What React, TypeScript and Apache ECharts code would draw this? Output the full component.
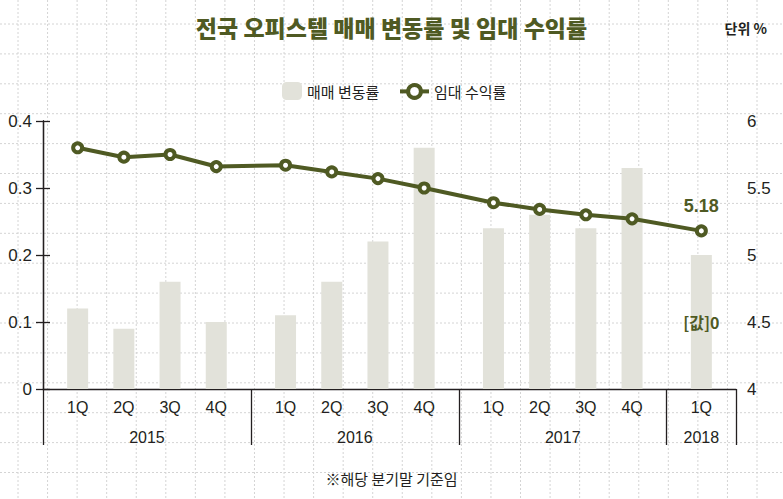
import React, { useEffect, useRef } from 'react';
import * as echarts from 'echarts';

// ---- data ----
const quarters = ['1Q', '2Q', '3Q', '4Q', '1Q', '2Q', '3Q', '4Q', '1Q', '2Q', '3Q', '4Q', '1Q'];
const quarterYears = ['2015', '2015', '2015', '2015', '2016', '2016', '2016', '2016', '2017', '2017', '2017', '2017', '2018'];
const saleChange = [0.12, 0.09, 0.16, 0.1, 0.11, 0.16, 0.22, 0.36, 0.24, 0.26, 0.24, 0.33, 0.2];
const rentYield = [5.8, 5.73, 5.75, 5.66, 5.67, 5.62, 5.57, 5.5, 5.39, 5.34, 5.3, 5.27, 5.18];
const leftTicks = { min: 0, max: 0.4, interval: 0.1 };
const rightTicks = { min: 4, max: 6, interval: 0.5 };
const seriesNames = ['매매 변동률', '임대 수익률'];
const titleText = '전국 오피스텔 매매 변동률 및 임대 수익률';
const unitText = '단위 %';
const noteText = '※해당 분기말 기준임';

const OLIVE = '#4f5a23';
const BAR = '#e2e2da';
const INK = '#231f20';
const KR = "'Noto Sans CJK KR', 'Noto Sans', sans-serif";
const NUM = "'Liberation Sans', Arial, sans-serif";

// group layout on a value axis: each year = pad + n quarters + pad
const PAD = 0.25;
const years = Array.from(new Set(quarterYears));
const positions: number[] = [];
const yearCenters: number[] = [];
const boundaries: number[] = [0];
let cursor = 0;
years.forEach((y) => {
  const n = quarterYears.filter((v) => v === y).length;
  const start = cursor;
  cursor += PAD;
  for (let i = 0; i < n; i++) {
    positions.push(cursor + 0.5);
    cursor += 1;
  }
  cursor += PAD;
  yearCenters.push((start + cursor) / 2);
  boundaries.push(cursor);
});
const xMax = cursor;

const near = (arr: number[], v: number) => arr.findIndex((p) => Math.abs(p - v) < 1e-6);

export default function App() {
  const ref = useRef<HTMLDivElement>(null);
  useEffect(() => {
    if (!ref.current) return;
    const chart = echarts.init(ref.current, undefined, { renderer: 'svg' });

    const bgLines: any[] = [];
    for (let k = 0; k < 27; k++) {
      const x = 18 + 29.56 * k;
      bgLines.push({
        type: 'line',
        z: -10,
        silent: true,
        shape: { x1: x, y1: 0, x2: x, y2: 499 },
        style: { stroke: '#d4d4d4', lineWidth: 1, lineDash: [2, 2] },
      });
    }
    for (let k = 0; k < 17; k++) {
      const y = 24 + 29.9 * k;
      bgLines.push({
        type: 'line',
        z: -10,
        silent: true,
        shape: { x1: 0, y1: y, x2: 783, y2: y },
        style: { stroke: '#d4d4d4', lineWidth: 1, lineDash: [2, 2] },
      });
    }

    const option: any = {
      animation: false,
      backgroundColor: '#fff',
      title: {
        text: titleText,
        left: 'center',
        top: 10,
        textStyle: { fontFamily: KR, fontSize: 23, fontWeight: 900, color: OLIVE },
      },
      legend: [
        {
          data: [seriesNames[0]],
          left: 277,
          top: 77,
          itemWidth: 20,
          itemHeight: 18,
          textStyle: { fontFamily: KR, fontSize: 15, color: INK },
        },
        {
          data: [seriesNames[1]],
          left: 393,
          top: 78,
          itemWidth: 29,
          itemHeight: 16,
          lineStyle: { width: 4 },
          itemStyle: { borderWidth: 4 },
          textStyle: { fontFamily: KR, fontSize: 15, color: INK },
        },
      ],
      grid: { left: 43, right: 47, top: 121, bottom: 110 },
      xAxis: [
        {
          type: 'value',
          min: 0,
          max: xMax,
          position: 'bottom',
          axisLine: { show: true, lineStyle: { color: INK, width: 1.3 } },
          axisTick: {
            show: true,
            customValues: boundaries,
            length: 56,
            inside: false,
            lineStyle: { color: INK, width: 1.3 },
          },
          axisLabel: {
            customValues: positions,
            formatter: (v: number) => {
              const i = near(positions, v);
              return i >= 0 ? quarters[i] : '';
            },
            margin: 10,
            fontFamily: NUM,
            fontSize: 16,
            color: INK,
          },
          splitLine: { show: false },
        },
        {
          type: 'value',
          min: 0,
          max: xMax,
          position: 'bottom',
          axisLine: { show: false },
          axisTick: { show: false },
          axisLabel: {
            customValues: yearCenters,
            formatter: (v: number) => {
              const i = near(yearCenters, v);
              return i >= 0 ? years[i] : '';
            },
            margin: 40,
            fontFamily: NUM,
            fontSize: 16,
            color: INK,
          },
          splitLine: { show: false },
        },
      ],
      yAxis: [
        {
          type: 'value',
          position: 'left',
          ...leftTicks,
          axisLine: { show: true, lineStyle: { color: INK, width: 1.3 } },
          axisTick: { show: true, inside: false, length: 7, lineStyle: { color: INK, width: 1.3 } },
          axisLabel: { margin: 11, fontFamily: NUM, fontSize: 17, color: INK },
          splitLine: { show: false },
        },
        {
          type: 'value',
          position: 'right',
          ...rightTicks,
          axisLine: { show: true, lineStyle: { color: INK, width: 1.3 } },
          axisTick: { show: true, inside: false, length: 7, lineStyle: { color: INK, width: 1.3 } },
          axisLabel: { margin: 11, fontFamily: NUM, fontSize: 17, color: INK },
          splitLine: { show: false },
        },
      ],
      series: [
        {
          name: seriesNames[0],
          type: 'bar',
          xAxisIndex: 0,
          yAxisIndex: 0,
          barWidth: 21,
          itemStyle: { color: BAR },
          data: saleChange.map((v, i) => {
            const item: any = { value: [positions[i], v] };
            if (i === saleChange.length - 1) {
              item.label = {
                show: true,
                position: 'inside',
                formatter: '[값]0',
                fontFamily: KR,
                fontSize: 16,
                fontWeight: 'bold',
                color: OLIVE,
              };
            }
            return item;
          }),
          z: 2,
        },
        {
          name: seriesNames[1],
          type: 'line',
          xAxisIndex: 0,
          yAxisIndex: 1,
          symbol: 'circle',
          symbolSize: 9,
          itemStyle: { color: '#fff', borderColor: OLIVE, borderWidth: 4 },
          lineStyle: { color: OLIVE, width: 4 },
          data: rentYield.map((v, i) => {
            const item: any = { value: [positions[i], v] };
            if (i === rentYield.length - 1) {
              item.label = {
                show: true,
                position: 'top',
                distance: 9,
                formatter: () => rentYield[i].toFixed(2),
                fontFamily: NUM,
                fontSize: 18,
                fontWeight: 'bold',
                color: OLIVE,
              };
            }
            return item;
          }),
          z: 3,
        },
      ],
      graphic: [
        ...bgLines,
        {
          type: 'text',
          right: 16,
          top: 21,
          style: { text: unitText, fontFamily: KR, fontSize: 14, fontWeight: 'bold', fill: INK },
        },
        {
          type: 'text',
          left: 'center',
          top: 471,
          style: { text: noteText, fontFamily: KR, fontSize: 15, fill: INK },
        },
      ],
    };
    chart.setOption(option);
    return () => chart.dispose();
  }, []);
  return (
    <div
      ref={ref}
      style={{ position: 'fixed', left: 0, top: 0, width: 783, height: 499, background: '#fff' }}
    />
  );
}
